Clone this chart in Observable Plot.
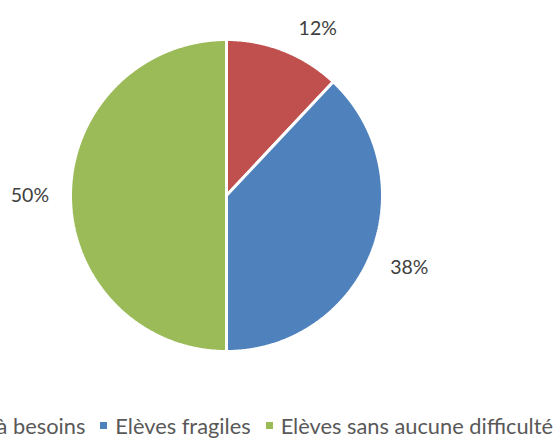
<!DOCTYPE html>
<html><head><meta charset="utf-8">
<script src="https://cdn.jsdelivr.net/npm/d3@7"></script>
<script src="https://cdn.jsdelivr.net/npm/@observablehq/plot@0.6"></script>
<style>
html,body{margin:0;padding:0;background:#fff;}
#wrap{position:relative;width:557px;height:439px;overflow:hidden;font-family:Lato,"Open Sans",sans-serif;}
#legend{position:absolute;right:4px;top:411px;height:28px;white-space:nowrap;display:flex;align-items:center;font-size:21.8px;color:#595959;}
#legend .it{display:flex;align-items:center;margin-left:15px;}
#legend .sw{width:7px;height:7px;margin-right:8px;display:inline-block;}
</style></head><body>
<div id="wrap"><div id="chart"></div><div id="legend"></div></div>
<script>
const categories = ["Elèves à besoins", "Elèves fragiles", "Elèves sans aucune difficulté"];
const values = [12, 38, 50];
const labels = ["12%", "38%", "50%"];
const colors = ["#C0504D", "#4F81BD", "#9BBB59"];

const W = 557, H = 405, cx = 226, cy = 195, R = 156;
const arcs = d3.pie().sort(null)(values);
const marks = [];
arcs.forEach((a, i) => {
  const pts = [{x: 0, y: 0}];
  const n = Math.max(4, Math.ceil((a.endAngle - a.startAngle) / 0.005));
  for (let k = 0; k <= n; k++) {
    const t = a.startAngle + (a.endAngle - a.startAngle) * k / n;
    pts.push({x: Math.sin(t), y: Math.cos(t)});
  }
  pts.push({x: 0, y: 0});
  marks.push(Plot.line(pts, {x: "x", y: "y", fill: colors[i], stroke: "#fff", strokeWidth: 3, strokeLinejoin: "miter", curve: "linear"}));
});
const lab = arcs.map((a, i) => {
  let m = (a.startAngle + a.endAngle) / 2;
  let r = 1.26;
  if (i === 0) { m = Math.max(m, 0.5); r = 1.22; }
  return {x: Math.sin(m) * r, y: Math.cos(m) * r, t: labels[i]};
});
marks.push(Plot.text(lab, {x: "x", y: "y", text: "t", fontSize: 19.5, fill: "#404040", fontFamily: "Lato, 'Open Sans', sans-serif"}));

const chart = Plot.plot({
  width: W, height: H, margin: 0,
  x: {domain: [-cx / R, (W - cx) / R], range: [0, W], axis: null},
  y: {domain: [-(H - cy) / R, cy / R], range: [H, 0], axis: null},
  marks
});
chart.style.display = "block";
document.getElementById("chart").appendChild(chart);

const lg = document.getElementById("legend");
categories.forEach((c, i) => {
  const it = document.createElement("span"); it.className = "it";
  const sw = document.createElement("span"); sw.className = "sw"; sw.style.background = colors[i];
  it.appendChild(sw); it.appendChild(document.createTextNode(c));
  lg.appendChild(it);
});
</script></body></html>
